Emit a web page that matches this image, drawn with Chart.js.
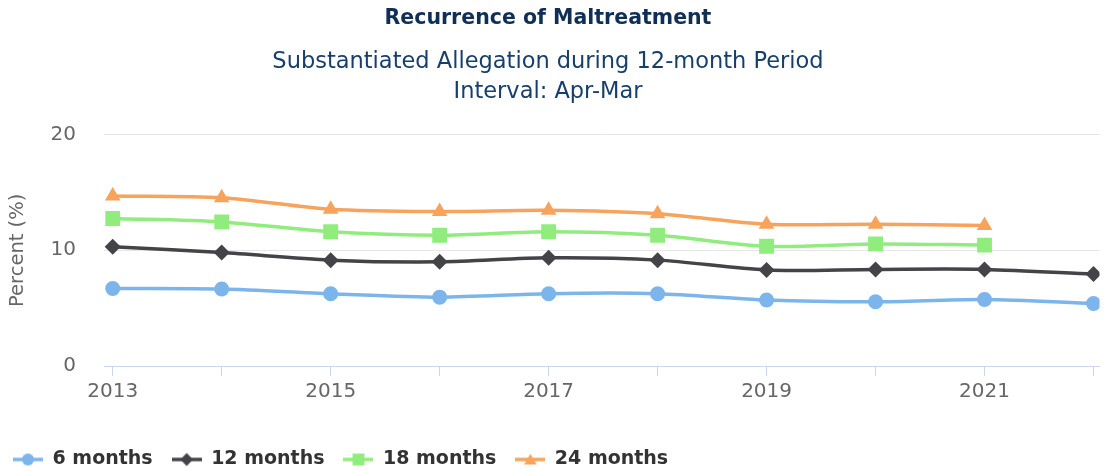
<!DOCTYPE html>
<html>
<head>
<meta charset="utf-8">
<script src="https://cdn.jsdelivr.net/npm/chart.js@4"></script>
<style>
  html, body { margin: 0; padding: 0; background: #fff; }
  #wrap { width: 1110px; height: 471px; position: relative; }
</style>
</head>
<body>
<div id="wrap"><canvas id="c"></canvas></div>
<script>
// ---- data ----
const years = [2013, 2014, 2015, 2016, 2017, 2018, 2019, 2020, 2021, 2022];
const xTickLabels = ['2013', '2015', '2017', '2019', '2021'];
const yTickValues = [0, 10, 20];
const seriesNames = ['6 months', '12 months', '18 months', '24 months'];
const months6  = [6.7, 6.65, 6.25, 5.95, 6.25, 6.25, 5.7, 5.55, 5.75, 5.4];
const months12 = [10.3, 9.8, 9.15, 9.0, 9.35, 9.15, 8.3, 8.35, 8.35, 7.95];
const months18 = [12.75, 12.45, 11.6, 11.3, 11.6, 11.3, 10.35, 10.55, 10.45];
const months24 = [14.7, 14.55, 13.55, 13.35, 13.45, 13.15, 12.25, 12.25, 12.15];

const FONT = "'DejaVu Sans', 'Open Sans', sans-serif";
const colors = ['#7cb5ec', '#434348', '#90ed7d', '#f7a35c'];
const styles = ['circle', 'rectRot', 'rect', 'triangle'];
const radii = [7.5, 8, 10.5, 9];
const values = [months6, months12, months18, months24];

function legendIcon(i) {
  const c = document.createElement('canvas');
  c.width = 30; c.height = 20;
  const ctx = c.getContext('2d');
  ctx.strokeStyle = colors[i];
  ctx.lineWidth = 3.5;
  ctx.beginPath(); ctx.moveTo(0, 10); ctx.lineTo(30, 10); ctx.stroke();
  ctx.fillStyle = colors[i];
  Chart.helpers.drawPoint(ctx, {pointStyle: styles[i], radius: radii[i] * 0.8, rotation: 0, borderWidth: 0}, 15, 10 + (styles[i] === 'triangle' ? 1.5 : 0));
  return c;
}

const datasets = seriesNames.map((name, i) => ({
  label: name,
  data: values[i].map((v, k) => ({x: years[k], y: v})),
  borderColor: colors[i],
  backgroundColor: colors[i],
  borderWidth: 3.5,
  pointStyle: styles[i],
  pointRadius: radii[i],
  pointHoverRadius: radii[i],
  pointBorderWidth: 0,
  tension: 0.3,
  fill: false
}));

const icons = seriesNames.map((_, i) => legendIcon(i));

new Chart(document.getElementById('c'), {
  type: 'line',
  data: { datasets },
  options: {
    responsive: true,
    maintainAspectRatio: false,
    animation: false,
    layout: { padding: { left: -6, right: 8, top: 0, bottom: -8 } },
    plugins: {
      tooltip: { enabled: false },
      title: {
        display: true,
        text: 'Recurrence of Maltreatment',
        color: '#0f2f55',
        font: { family: FONT, size: 20.5, weight: 'bold', lineHeight: 1.2 },
        padding: { top: 6, bottom: 17 }
      },
      subtitle: {
        display: true,
        text: ['Substantiated Allegation during 12-month Period', 'Interval: Apr-Mar'],
        color: '#173f6b',
        font: { family: FONT, size: 22.5, weight: 'normal', lineHeight: 1.333 },
        padding: { top: 0, bottom: 27 }
      },
      legend: {
        display: true,
        position: 'bottom',
        align: 'start',
        labels: {
          usePointStyle: true,
          pointStyleWidth: 30,
          padding: 19,
          color: '#333333',
          font: { family: FONT, size: 19, weight: 'bold' },
          generateLabels: (chart) => chart.data.datasets.map((ds, i) => ({
            text: ds.label,
            fillStyle: colors[i],
            strokeStyle: colors[i],
            lineWidth: 0,
            pointStyle: icons[i],
            hidden: false,
            datasetIndex: i,
            fontColor: '#333333'
          }))
        }
      }
    },
    scales: {
      x: {
        type: 'linear',
        min: years[0] - 0.08,
        max: years[years.length - 1] + 0.055,
        afterBuildTicks: (scale) => { scale.ticks = years.map(v => ({value: v})); },
        afterFit: (scale) => { scale.height = 65; },
        grid: { drawOnChartArea: false, drawTicks: true, tickLength: 10, color: '#ccd6eb', tickWidth: 1 },
        border: { display: true, color: '#ccd6eb', width: 1 },
        ticks: {
          autoSkip: false,
          maxRotation: 0,
          padding: 4,
          color: '#666666',
          font: { family: FONT, size: 20 },
          callback: (v) => xTickLabels.includes(String(v)) ? String(v) : ''
        }
      },
      y: {
        min: 0,
        max: 20,
        afterBuildTicks: (scale) => { scale.ticks = yTickValues.map(v => ({value: v})); },
        afterFit: (scale) => { scale.width = 110; },
        grid: { color: '#e6e6e6', drawTicks: false, lineWidth: 1 },
        border: { display: false },
        ticks: {
          padding: 28,
          color: '#666666',
          font: { family: FONT, size: 20 }
        },
        title: {
          display: true,
          text: 'Percent (%)',
          color: '#666666',
          font: { family: FONT, size: 19.5 },
          padding: { top: 12, bottom: 0 }
        }
      }
    }
  }
});
</script>
</body>
</html>
